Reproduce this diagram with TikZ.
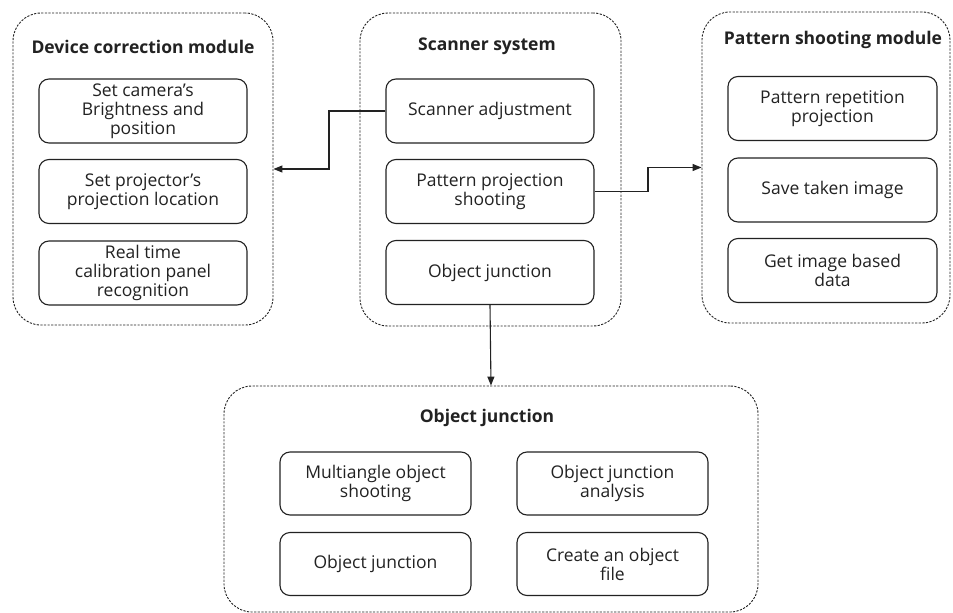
\documentclass[tikz,border=0pt]{standalone}
\usepackage{fontspec}
\setmainfont{Open Sans}
\usetikzlibrary{arrows.meta}
\definecolor{ink}{HTML}{222222}
\tikzset{
  container/.style={draw=ink, line width=0.9pt, dash pattern=on 2.2pt off 1.4pt, rounded corners=28pt, inner sep=0pt},
  inner/.style={draw=ink, line width=1.1pt, rounded corners=10pt, minimum width=208pt, minimum height=64pt, align=center, inner sep=0pt, text=ink, font=\fontsize{17.5}{19}\selectfont},
  ttl/.style={font=\fontsize{17.5}{19}\selectfont\bfseries, text=ink, inner sep=0pt},
  arr/.style={draw=ink, line width=1.1pt, -{Triangle[length=9pt,width=7pt]}},
}
\begin{document}
\begin{tikzpicture}[x=1pt,y=-1pt]
\useasboundingbox[fill=white] (0,0) rectangle (953,613);
% containers
\node[container, minimum width=260pt, minimum height=312pt] (dev) at (143,169) {};
\node[container, minimum width=261pt, minimum height=313pt] (scan) at (490.5,169.5) {};
\node[container, minimum width=248pt, minimum height=311pt] (pat) at (826,167.5) {};
\node[container, minimum width=534pt, minimum height=226pt] (bot) at (491,499) {};
% titles
\node[ttl] (devt) at (143,47) {Device correction module};
\node[ttl] (scant) at (487,46) {Scanner system};
\node[ttl] (patt) at (833,40) {Pattern shooting module};
\node[ttl] (bott) at (487,418) {Object junction};
% device inner
\node[inner] (d1) at (143,111) {Set camera's\\Brightness and\\position};
\node[inner] (d2) at (143,191.5) {Set projector's\\projection location};
\node[inner] (d3) at (143,273) {Real time\\calibration panel\\recognition};
% scanner inner
\node[inner] (sadj) at (490,111) {Scanner adjustment};
\node[inner] (pps) at (490,191.5) {Pattern projection\\shooting};
\node[inner] (oj) at (490,272.5) {Object junction};
% pattern inner
\node[inner, minimum width=209pt] (p1) at (832.5,108.5) {Pattern repetition\\projection};
\node[inner, minimum width=209pt] (p2) at (832.5,190) {Save taken image};
\node[inner, minimum width=209pt] (p3) at (832.5,270.5) {Get image based\\data};
% bottom inner
\node[inner, minimum width=191pt, minimum height=63pt] (b1) at (375.5,483.5) {Multiangle object\\shooting};
\node[inner, minimum width=191pt, minimum height=63pt] (b2) at (612.5,483.5) {Object junction\\analysis};
\node[inner, minimum width=191pt, minimum height=63pt] (b3) at (375.5,564) {Object junction};
\node[inner, minimum width=191pt, minimum height=63pt] (b4) at (612.5,564) {Create an object\\file};
% connectors
\coordinate (c1) at (329,111);
\coordinate (c2) at (648,191.5);
\draw[arr] (sadj.west) -- (c1) |- (dev.east);
\draw[arr] (pps.east) -- (c2) |- (pat.west);
\draw[arr] (oj.south) -- (bot.north);
\end{tikzpicture}
\end{document}
